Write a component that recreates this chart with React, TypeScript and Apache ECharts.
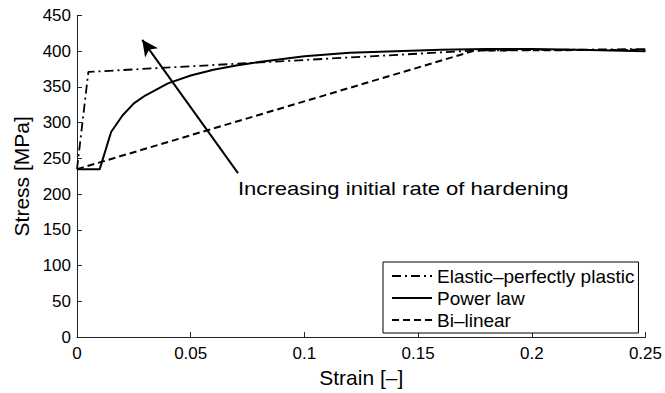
import React, { useEffect, useRef } from "react";
import * as echarts from "echarts";

const seriesNames = ["Elastic\u2013perfectly plastic", "Power law", "Bi\u2013linear"];

const elasticStrain = [0, 0.005, 0.175, 0.25];
const elasticStress = [235, 371, 401, 403];

const powerStrain = [0, 0.01, 0.015, 0.02, 0.025, 0.03, 0.04, 0.05, 0.06, 0.07, 0.08, 0.1, 0.12, 0.14, 0.16, 0.18, 0.2, 0.22, 0.25];
const powerStress = [235, 235, 287, 310, 327, 338, 355, 366, 374, 380, 385, 393, 398, 400, 402, 403, 403, 402, 400];

const bilinearStrain = [0, 0.175, 0.25];
const bilinearStress = [235, 401, 402];

const arrowTail = [0.0708, 229.5];
const arrowHead = [0.0287, 416];
const annotationText = "Increasing initial rate of hardening";

const xTicks = { min: 0, max: 0.25, interval: 0.05 };
const yTicks = { min: 0, max: 450, interval: 50 };

const zip = (xs: number[], ys: number[]) => xs.map((x, i) => [x, ys[i]]);

const FONT = "'Liberation Sans', Arial, Helvetica, sans-serif";

export default function App() {
  const ref = useRef<HTMLDivElement>(null);
  useEffect(() => {
    if (!ref.current) return;
    const chart = echarts.init(ref.current, undefined, { renderer: "svg" });
    const axisCommon = {
      axisLine: { show: true, lineStyle: { color: "#222", width: 1 } },
      axisTick: { show: true, inside: true, length: 5, lineStyle: { color: "#222" } },
      splitLine: { show: false },
    };
    chart.setOption({
      animation: false,
      backgroundColor: "#fff",
      textStyle: { fontFamily: FONT },
      grid: { left: 77, right: 19, top: 15.5, bottom: 52, containLabel: false },
      xAxis: {
        type: "value",
        ...xTicks,
        ...axisCommon,
        name: "Strain [\u2013]",
        nameLocation: "middle",
        nameGap: 24,
        nameTextStyle: { fontSize: 21, color: "#000", fontFamily: FONT },
        axisLabel: { fontSize: 17, color: "#000", margin: 8, fontFamily: FONT },
      },
      yAxis: {
        type: "value",
        ...yTicks,
        ...axisCommon,
        name: "Stress [MPa]",
        nameLocation: "middle",
        nameRotate: 90,
        nameGap: 44,
        nameTextStyle: { fontSize: 21, color: "#000", fontFamily: FONT },
        axisLabel: { fontSize: 17, color: "#000", margin: 6, fontFamily: FONT },
      },
      legend: {
        orient: "vertical",
        left: 383,
        top: 262,
        padding: [4, 4, 3, 8],
        itemGap: 2,
        itemWidth: 40,
        itemHeight: 14,
        borderColor: "#000",
        borderWidth: 1,
        backgroundColor: "#fff",
        itemStyle: { opacity: 0 },
        textStyle: { fontSize: 19, color: "#000", lineHeight: 20, fontFamily: FONT },
        data: seriesNames,
      },
      series: [
        {
          name: seriesNames[0],
          type: "line",
          data: zip(elasticStrain, elasticStress),
          symbol: "none",
          lineStyle: { color: "#000", width: 1.8, type: [9, 4, 2, 4] },
          itemStyle: { color: "#000" },
          z: 3,
        },
        {
          name: seriesNames[1],
          type: "line",
          data: zip(powerStrain, powerStress),
          symbol: "none",
          lineStyle: { color: "#000", width: 2, type: "solid" },
          itemStyle: { color: "#000" },
          z: 2,
          markLine: {
            silent: true,
            symbol: ["none", "arrow"],
            symbolSize: [12, 16],
            label: { show: false },
            lineStyle: { color: "#000", width: 2, type: "solid" },
            data: [[{ coord: arrowTail }, { coord: arrowHead }]],
          },
        },
        {
          name: seriesNames[2],
          type: "line",
          data: zip(bilinearStrain, bilinearStress),
          symbol: "none",
          lineStyle: { color: "#000", width: 2, type: [7, 4] },
          itemStyle: { color: "#000" },
          z: 1,
        },
      ],
      graphic: [
        {
          type: "text",
          x: 238,
          y: 188,
          scaleX: 1.16,
          style: {
            text: annotationText,
            fontSize: 19,
            fontFamily: FONT,
            fill: "#000",
            verticalAlign: "middle",
            align: "left",
          },
        },
      ],
    });
    return () => chart.dispose();
  }, []);
  return <div ref={ref} style={{ width: 665, height: 393, position: "absolute", left: 0, top: 0 }} />;
}
